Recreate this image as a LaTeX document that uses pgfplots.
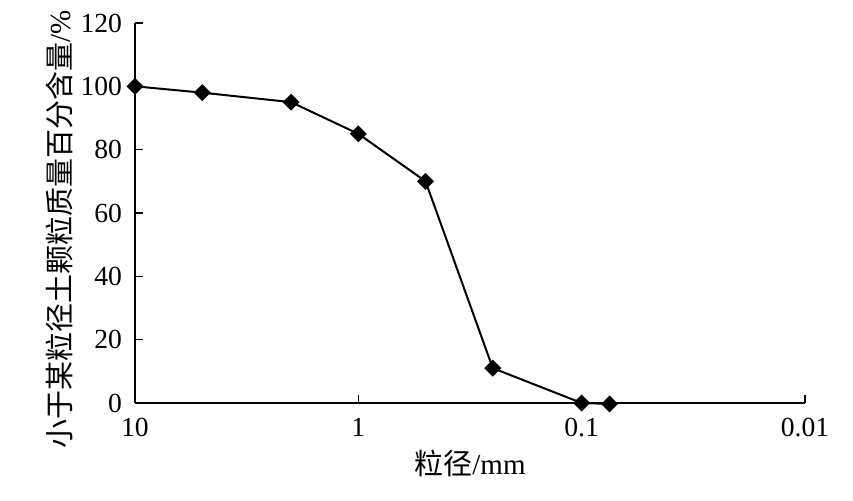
\documentclass[border=0pt]{standalone}
\usepackage{pgfplots}
\pgfplotsset{compat=1.18}
\usepackage{fontspec}
\setmainfont{Liberation Serif}
\newfontfamily\cjk{Noto Sans CJK SC}
\begin{document}
\begin{tikzpicture}
\useasboundingbox (-67.5pt,-49pt) rectangle (359pt,201.5pt);
\begin{axis}[
  at={(0,0)}, anchor=south west,
  scale only axis, width=335pt, height=190pt,
  xmode=log, x dir=reverse,
  xmin=0.01, xmax=10, ymin=0, ymax=120,
  axis x line*=bottom, axis y line*=left,
  axis line style={line width=0.8pt},
  xtick={0.01,0.1,1,10}, xticklabels={0.01,0.1,1,10},
  xminorticks=false,
  ytick={0,20,40,60,80,100,120},
  tick style={black, line width=0.8pt},
  major tick length=4pt,
  tick align=inside,
  clip=false,
  /pgf/number format/assume math mode=true,
  ticklabel style={font=\fontsize{13.8}{16}\selectfont},
  xticklabel style={yshift=-4pt},
  yticklabel style={xshift=-3pt},
  xlabel={{\cjk 粒径}/mm},
  ylabel={{\cjk 小于某粒径土颗粒质量百分含量}/\%},
  label style={font=\fontsize{14.5}{16}\selectfont},
  xlabel style={at={(axis description cs:0.5,-0.158)}, anchor=center},
  ylabel style={at={(axis description cs:-0.113,0.458)}, anchor=center, rotate=0},
]
\addplot[black, line width=1pt, mark=square*, mark size=2.5pt, mark options={rotate=45, solid}]
coordinates {(10,100) (5,98) (2,95) (1,85) (0.5,70) (0.25,11) (0.1,0) (0.075,-0.3)};
\end{axis}
\end{tikzpicture}
\end{document}
